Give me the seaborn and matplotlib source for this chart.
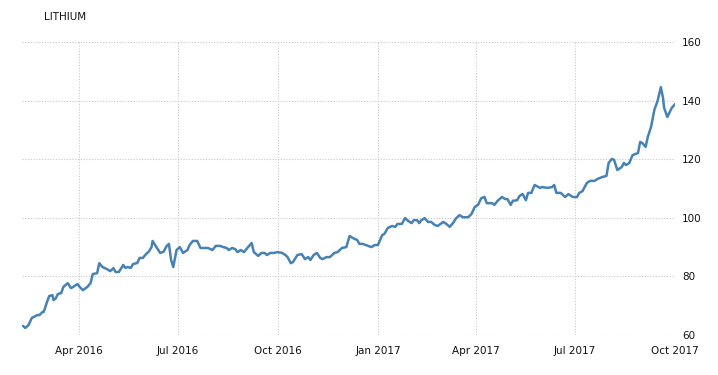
import matplotlib
matplotlib.use("Agg")
import matplotlib.pyplot as plt
import matplotlib.dates as mdates
import seaborn as sns
import pandas as pd

title = "LITHIUM"

dates = [
    "2016-02-10", "2016-02-12", "2016-02-15", "2016-02-18", "2016-02-23", "2016-02-25",
    "2016-02-28", "2016-02-29", "2016-03-03", "2016-03-05", "2016-03-08", "2016-03-09",
    "2016-03-11", "2016-03-13", "2016-03-16", "2016-03-18", "2016-03-22", "2016-03-25",
    "2016-03-27", "2016-03-31", "2016-04-02", "2016-04-05", "2016-04-09", "2016-04-12",
    "2016-04-14", "2016-04-18", "2016-04-20", "2016-04-23", "2016-04-27", "2016-04-30",
    "2016-05-03", "2016-05-05", "2016-05-08", "2016-05-12", "2016-05-14", "2016-05-16",
    "2016-05-19", "2016-05-21", "2016-05-25", "2016-05-27", "2016-05-30", "2016-06-02",
    "2016-06-05", "2016-06-07", "2016-06-08", "2016-06-12", "2016-06-15", "2016-06-18",
    "2016-06-21", "2016-06-23", "2016-06-25", "2016-06-27", "2016-06-30", "2016-07-03",
    "2016-07-06", "2016-07-10", "2016-07-12", "2016-07-15", "2016-07-19", "2016-07-22",
    "2016-07-26", "2016-07-29", "2016-08-02", "2016-08-05", "2016-08-09", "2016-08-12",
    "2016-08-15", "2016-08-17", "2016-08-20", "2016-08-23", "2016-08-25", "2016-08-28",
    "2016-08-31", "2016-09-03", "2016-09-07", "2016-09-09", "2016-09-13", "2016-09-16",
    "2016-09-19", "2016-09-21", "2016-09-24", "2016-09-27", "2016-10-01", "2016-10-05",
    "2016-10-08", "2016-10-10", "2016-10-13", "2016-10-15", "2016-10-19", "2016-10-23",
    "2016-10-26", "2016-10-29", "2016-10-31", "2016-11-03", "2016-11-06", "2016-11-09",
    "2016-11-11", "2016-11-15", "2016-11-18", "2016-11-22", "2016-11-25", "2016-11-29",
    "2016-12-03", "2016-12-06", "2016-12-09", "2016-12-13", "2016-12-15", "2016-12-18",
    "2016-12-23", "2016-12-26", "2016-12-29", "2017-01-01", "2017-01-05", "2017-01-07",
    "2017-01-10", "2017-01-14", "2017-01-17", "2017-01-19", "2017-01-23", "2017-01-26",
    "2017-01-29", "2017-02-01", "2017-02-03", "2017-02-06", "2017-02-08", "2017-02-10",
    "2017-02-13", "2017-02-16", "2017-02-19", "2017-02-22", "2017-02-25", "2017-03-02",
    "2017-03-05", "2017-03-08", "2017-03-11", "2017-03-14", "2017-03-17", "2017-03-20",
    "2017-03-25", "2017-03-28", "2017-03-31", "2017-04-03", "2017-04-06", "2017-04-09",
    "2017-04-11", "2017-04-16", "2017-04-18", "2017-04-21", "2017-04-25", "2017-04-28",
    "2017-04-30", "2017-05-03", "2017-05-05", "2017-05-09", "2017-05-11", "2017-05-14",
    "2017-05-17", "2017-05-19", "2017-05-22", "2017-05-25", "2017-05-30", "2017-06-01",
    "2017-06-06", "2017-06-10", "2017-06-12", "2017-06-14", "2017-06-18", "2017-06-22",
    "2017-06-25", "2017-06-29", "2017-07-03", "2017-07-05", "2017-07-08", "2017-07-12",
    "2017-07-15", "2017-07-19", "2017-07-22", "2017-07-26", "2017-07-30", "2017-08-01",
    "2017-08-04", "2017-08-06", "2017-08-09", "2017-08-13", "2017-08-15", "2017-08-17",
    "2017-08-20", "2017-08-23", "2017-08-28", "2017-08-30", "2017-09-01", "2017-09-04",
    "2017-09-06", "2017-09-09", "2017-09-12", "2017-09-15", "2017-09-18", "2017-09-20",
    "2017-09-21", "2017-09-24", "2017-09-28", "2017-10-01",
]

values = [
    63.1, 62.4, 63.4, 65.8, 66.8, 66.8,
    67.9, 67.9, 71.3, 73.3, 73.6, 71.9,
    72.5, 74.0, 74.3, 76.4, 77.7, 76.0,
    76.4, 77.4, 76.4, 75.3, 76.4, 77.7,
    80.8, 81.1, 84.5, 83.2, 82.5, 81.8,
    82.8, 81.5, 81.5, 83.9, 82.9, 83.2,
    82.9, 84.2, 84.6, 86.3, 86.3, 87.6,
    88.7, 90.0, 92.1, 89.7, 88.0, 88.4,
    90.4, 91.1, 85.6, 83.2, 89.0, 90.0,
    88.0, 89.0, 90.7, 92.1, 92.1, 89.7,
    89.7, 89.7, 89.0, 90.4, 90.4, 90.0,
    89.7, 89.0, 89.7, 89.3, 88.3, 89.0,
    88.3, 89.7, 91.4, 88.3, 87.0, 88.0,
    88.0, 87.3, 88.0, 88.0, 88.3, 88.0,
    87.3, 86.6, 84.5, 84.9, 87.3, 87.6,
    85.9, 86.6, 85.6, 87.3, 88.0, 86.3,
    85.9, 86.6, 86.6, 88.0, 88.3, 89.7,
    90.0, 93.8, 93.1, 92.4, 91.1, 91.1,
    90.4, 90.0, 90.7, 90.7, 94.1, 94.5,
    96.5, 97.2, 96.9, 97.9, 97.9, 99.9,
    98.9, 98.2, 99.2, 99.2, 98.2, 99.2,
    99.9, 98.6, 98.6, 97.6, 97.2, 98.6,
    97.9, 96.9, 98.2, 99.9, 100.9, 100.2,
    100.2, 101.3, 103.7, 104.4, 106.7, 107.1,
    105.0, 105.0, 104.4, 105.8, 107.1, 106.4,
    106.4, 104.4, 105.8, 106.0, 107.4, 108.1,
    106.0, 108.5, 108.5, 111.2, 110.2, 110.5,
    110.2, 110.5, 111.2, 108.5, 108.5, 107.1,
    108.1, 107.1, 107.1, 108.5, 109.1, 111.9,
    112.6, 112.6, 113.3, 113.9, 114.3, 118.7,
    120.1, 119.8, 116.3, 117.3, 118.7, 118.0,
    118.7, 121.4, 122.1, 125.9, 125.5, 124.2,
    127.6, 131.0, 136.8, 139.9, 144.6, 140.9,
    137.5, 134.4, 137.5, 138.8,
]

y_ticks = [60, 80, 100, 120, 140, 160]
x_ticks = ["2016-04-01", "2016-07-01", "2016-10-01", "2017-01-01",
           "2017-04-01", "2017-07-01", "2017-10-01"]

df = pd.DataFrame({"date": pd.to_datetime(dates), "value": values})

sns.set_theme(style="white")
plt.rcParams["font.family"] = ["DejaVu Sans"]

fig = plt.figure(figsize=(7.18, 3.75), dpi=100)
ax = fig.add_axes([22 / 718, 1 - 335 / 375, (675 - 22) / 718, (335 - 42) / 375])

sns.lineplot(data=df, x="date", y="value", ax=ax, color="#4682b4", linewidth=1.8)

ax.set_xlim(pd.Timestamp("2016-02-09"), pd.Timestamp("2017-10-01"))
ax.set_ylim(60, 160)
ax.set_yticks(y_ticks)
ax.set_xticks(pd.to_datetime(x_ticks))
ax.xaxis.set_major_formatter(mdates.DateFormatter("%b %Y"))

ax.yaxis.tick_right()
ax.yaxis.set_label_position("right")
ax.set_xlabel("")
ax.set_ylabel("")

for s in ax.spines.values():
    s.set_visible(False)

ax.grid(True, which="major", axis="both", color="#c8c8c8", linestyle=(0, (1, 1.5)), linewidth=0.8)
ax.tick_params(axis="both", length=0, labelsize=7.5, colors="#111111")
ax.tick_params(axis="y", pad=5)
ax.tick_params(axis="x", pad=8)

fig.text(44 / 718, 1 - 17 / 375, title, fontsize=7.5, color="#111111", va="center", ha="left")

fig.savefig("out.png", dpi=100)
